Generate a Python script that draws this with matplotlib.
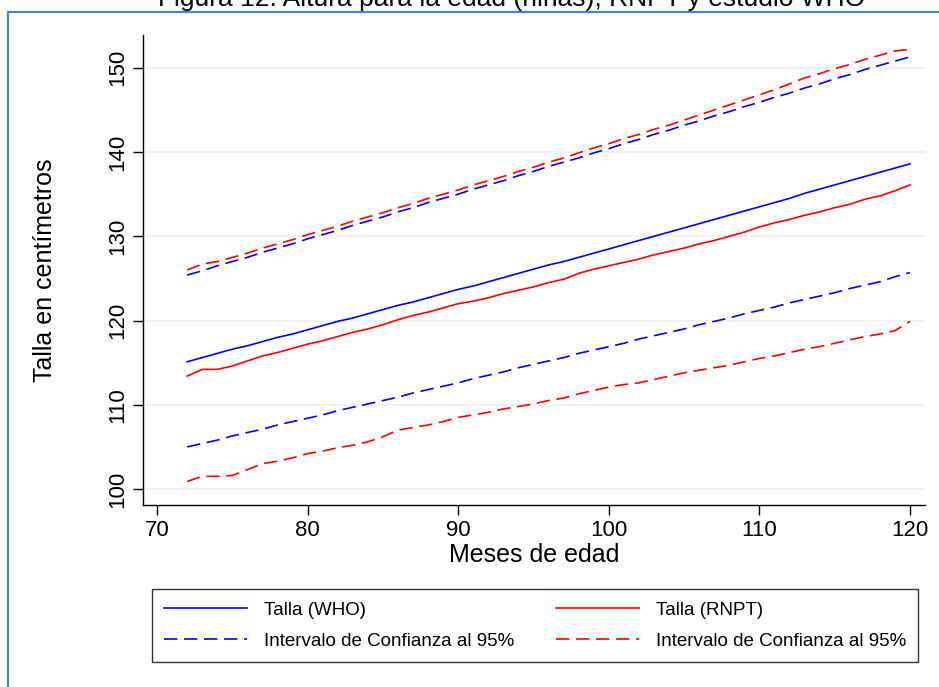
import matplotlib
matplotlib.use("Agg")
import matplotlib.pyplot as plt
from matplotlib.patches import Rectangle

plt.rcParams['font.family'] = ['Liberation Sans', 'DejaVu Sans']

# Months of age
meses = list(range(72, 121))

# WHO reference (girls), median and 95% interval
who_talla = [115.1, 115.6, 116.1, 116.6, 117.0, 117.5, 118.0, 118.4, 118.9, 119.4,
             119.9, 120.3, 120.8, 121.3, 121.8, 122.2, 122.7, 123.2, 123.7, 124.1,
             124.6, 125.1, 125.6, 126.1, 126.6, 127.0, 127.5, 128.0, 128.5, 129.0,
             129.5, 130.0, 130.5, 131.0, 131.5, 132.0, 132.5, 133.0, 133.5, 134.0,
             134.5, 135.1, 135.6, 136.1, 136.6, 137.1, 137.6, 138.1, 138.6]
who_sup = [125.4, 125.9, 126.5, 127.0, 127.5, 128.1, 128.6, 129.1, 129.7, 130.2,
           130.7, 131.3, 131.8, 132.3, 132.9, 133.4, 134.0, 134.5, 135.0, 135.6,
           136.1, 136.6, 137.2, 137.7, 138.3, 138.8, 139.3, 139.9, 140.4, 141.0,
           141.5, 142.1, 142.6, 143.2, 143.7, 144.3, 144.8, 145.4, 145.9, 146.5,
           147.0, 147.6, 148.1, 148.7, 149.2, 149.8, 150.3, 150.8, 151.3]
who_inf = [105.0, 105.4, 105.8, 106.3, 106.7, 107.1, 107.6, 108.0, 108.4, 108.8,
           109.3, 109.7, 110.1, 110.5, 110.9, 111.4, 111.8, 112.2, 112.6, 113.1,
           113.5, 113.9, 114.4, 114.8, 115.2, 115.6, 116.1, 116.5, 116.9, 117.3,
           117.8, 118.2, 118.6, 119.0, 119.5, 119.9, 120.3, 120.8, 121.2, 121.6,
           122.1, 122.5, 122.9, 123.3, 123.8, 124.2, 124.6, 125.2, 125.7]

# RNPT, median and 95% interval
rnpt_talla = [113.4, 114.2, 114.2, 114.6, 115.2, 115.8, 116.2, 116.7, 117.2, 117.6,
              118.1, 118.6, 119.0, 119.5, 120.1, 120.6, 121.0, 121.5, 122.0, 122.3,
              122.7, 123.2, 123.6, 124.0, 124.5, 124.9, 125.6, 126.1, 126.5, 126.9,
              127.3, 127.8, 128.2, 128.6, 129.1, 129.5, 130.0, 130.5, 131.1, 131.6,
              132.0, 132.5, 132.9, 133.4, 133.8, 134.4, 134.8, 135.4, 136.1]
rnpt_sup = [126.0, 126.7, 127.0, 127.5, 128.0, 128.6, 129.1, 129.6, 130.2, 130.7,
            131.2, 131.8, 132.3, 132.8, 133.4, 133.9, 134.5, 135.0, 135.5, 136.1,
            136.6, 137.1, 137.7, 138.2, 138.8, 139.3, 139.9, 140.5, 141.0, 141.6,
            142.1, 142.7, 143.2, 143.8, 144.4, 145.0, 145.6, 146.2, 146.8, 147.4,
            148.1, 148.8, 149.3, 149.9, 150.4, 151.0, 151.5, 152.0, 152.2]
rnpt_inf = [100.9, 101.5, 101.5, 101.6, 102.3, 103.0, 103.3, 103.7, 104.2, 104.5,
            104.9, 105.2, 105.6, 106.2, 107.0, 107.3, 107.6, 108.0, 108.5, 108.8,
            109.1, 109.5, 109.8, 110.1, 110.5, 110.8, 111.3, 111.7, 112.1, 112.4,
            112.6, 113.0, 113.4, 113.8, 114.1, 114.4, 114.7, 115.1, 115.5, 115.8,
            116.2, 116.6, 116.9, 117.3, 117.7, 118.1, 118.4, 118.8, 119.9]

xticks = [70, 80, 90, 100, 110, 120]
yticks = [100, 110, 120, 130, 140, 150]

fig = plt.figure(figsize=(9.39, 6.87), dpi=100)

# Blue frame of the screenshot (cut at right and bottom)
fig.patches.append(Rectangle((8 / 939, -0.05), 1.2, 1 - 11.5 / 687 + 0.05,
                             transform=fig.transFigure, fill=False,
                             edgecolor='#4f81c7', linewidth=1.6))

# Title, mostly cut off at the top
fig.text(512 / 939, 1 - 6 / 687, u"Figura 12. Altura para la edad (niñas), RNPT y estudio WHO",
         ha='center', va='baseline', fontsize=19)

ax = fig.add_axes([143 / 939, 1 - 505 / 687, (925 - 143) / 939, (505 - 35) / 687])

dash = (0, (8, 4))
lw = 1.2
ax.plot(meses, who_talla, color='#0000ff', lw=lw, label='Talla (WHO)')
ax.plot(meses, who_sup, color='#0000ff', lw=lw, ls=dash, label='Intervalo de Confianza al 95%')
ax.plot(meses, rnpt_talla, color='#ff0000', lw=lw, label='Talla (RNPT)')
ax.plot(meses, rnpt_sup, color='#ff0000', lw=lw, ls=dash, label='Intervalo de Confianza al 95%')
ax.plot(meses, who_inf, color='#0000ff', lw=lw, ls=dash)
ax.plot(meses, rnpt_inf, color='#ff0000', lw=lw, ls=dash)

ax.set_xlim(69.07, 121.0)
ax.set_ylim(98.1, 153.9)
ax.set_xticks(xticks)
ax.set_yticks(yticks)
ax.yaxis.grid(True, color='#eaf2f3', lw=1.3)
ax.set_axisbelow(True)
for s in ['top', 'right']:
    ax.spines[s].set_visible(False)
for s in ['left', 'bottom']:
    ax.spines[s].set_linewidth(1.0)
ax.tick_params(labelsize=16, length=7, width=1.0)
plt.setp(ax.get_yticklabels(), rotation=90, va='center')
ax.set_xlabel('Meses de edad', fontsize=18, labelpad=2)
ax.set_ylabel(u'Talla en centímetros', fontsize=18, labelpad=36)

handles, labels = ax.get_legend_handles_labels()
leg = fig.legend(handles, labels, ncol=2, loc='lower left',
                 bbox_to_anchor=(152 / 939, 1 - 662 / 687, (918 - 152) / 939, (662 - 584) / 687),
                 mode='expand', fontsize=13.5, handlelength=4.4, handletextpad=0.9,
                 borderpad=0.65, labelspacing=0.75, frameon=True, fancybox=False,
                 borderaxespad=0)
leg.get_frame().set_edgecolor('black')
leg.get_frame().set_linewidth(1.0)

fig.savefig('out.png', dpi=100)
